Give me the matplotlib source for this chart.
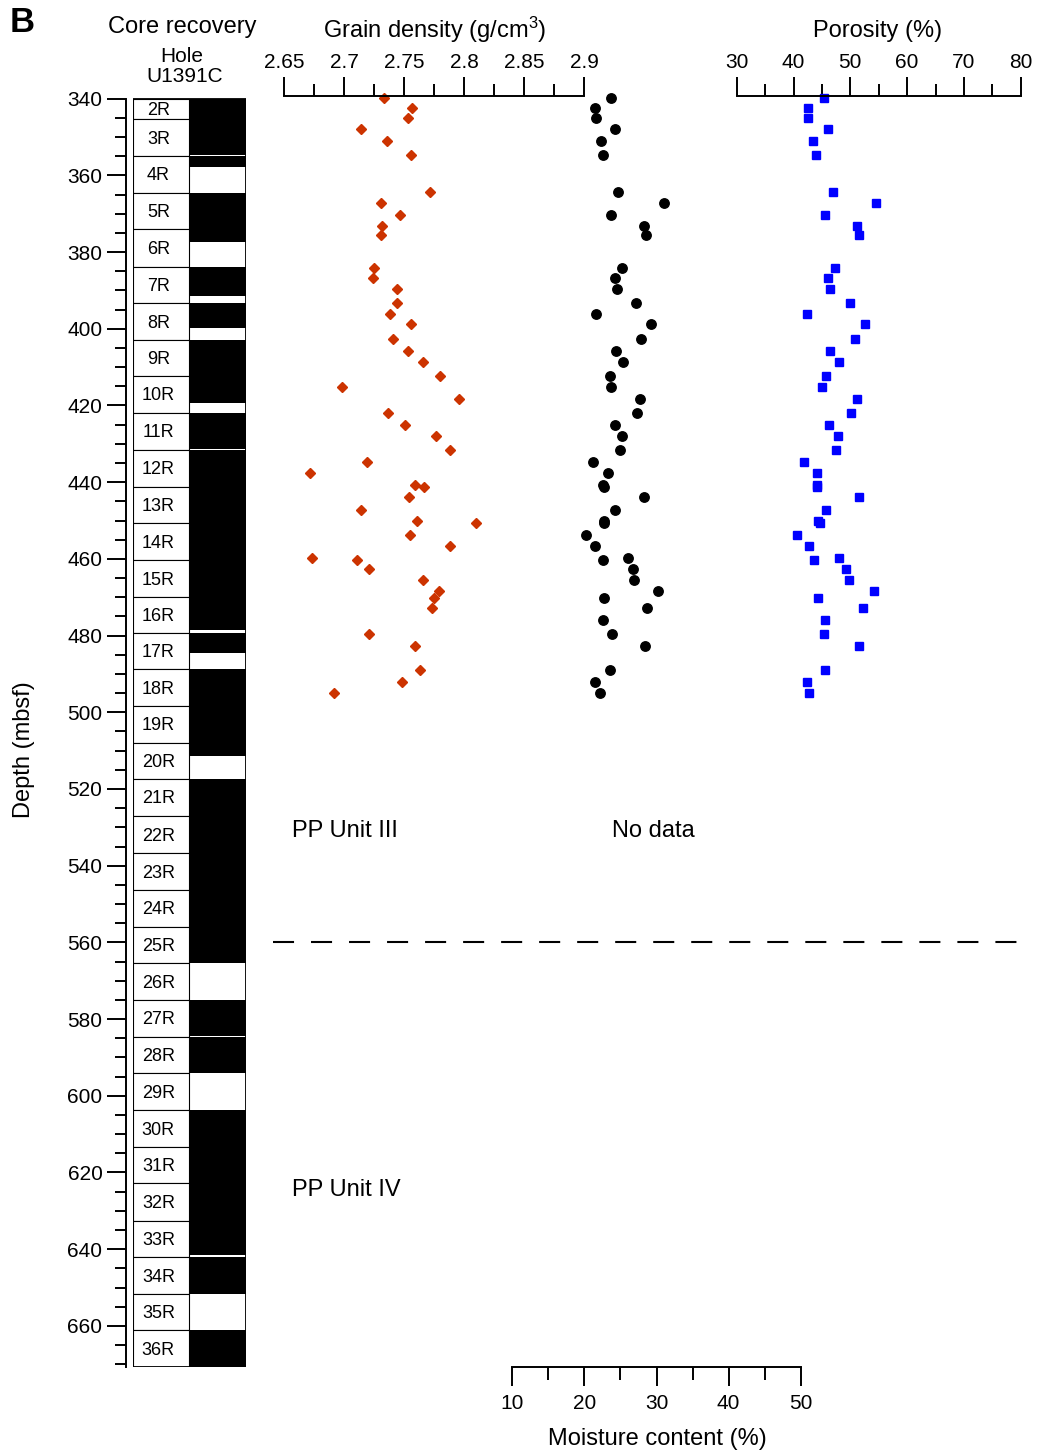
import numpy as np
import matplotlib.pyplot as plt
from matplotlib.patches import Rectangle
from matplotlib.ticker import MultipleLocator
from matplotlib.transforms import blended_transform_factory

plt.rcParams['font.family'] = ['Liberation Sans', 'DejaVu Sans']
plt.rcParams['mathtext.fontset'] = 'custom'
plt.rcParams['mathtext.rm'] = 'Liberation Sans'
plt.rcParams['mathtext.default'] = 'rm'

# Hole U1391C cores: name, top depth (mbsf), recovered length (m)
core_names = ['2R', '3R', '4R', '5R', '6R', '7R', '8R', '9R', '10R', '11R',
              '12R', '13R', '14R', '15R', '16R', '17R', '18R', '19R', '20R',
              '21R', '22R', '23R', '24R', '25R', '26R', '27R', '28R', '29R',
              '30R', '31R', '32R', '33R', '34R', '35R', '36R']
core_top = [340.0, 345.3, 355.0, 364.5, 374.1, 383.8, 393.4, 402.9, 412.3,
            421.9, 431.6, 441.2, 450.7, 460.4, 469.9, 479.4, 488.8, 498.4,
            507.9, 517.4, 527.0, 536.8, 546.3, 555.9, 565.5, 575.0, 584.6,
            594.1, 603.7, 613.4, 622.8, 632.6, 642.1, 651.7, 661.2]
core_rec = [5.2, 9.4, 2.7, 9.6, 3.2, 7.6, 6.5, 9.4, 7.1, 9.4, 9.6, 9.5, 9.7,
            9.5, 8.6, 5.2, 9.6, 9.5, 3.5, 9.6, 9.8, 9.5, 9.6, 9.6, 0.0, 9.5,
            9.5, 0.0, 9.7, 9.4, 9.8, 8.8, 9.6, 0.0, 9.4]
hole_bottom = 670.6

# MAD samples
mad_depth = [339.8, 342.5, 345.0, 348.0, 351.0, 354.7, 364.3, 367.3, 370.3,
             373.2, 375.5, 384.1, 386.7, 389.5, 393.2, 396.1, 398.8, 402.7,
             405.7, 408.7, 412.3, 415.3, 418.2, 422.0, 425.0, 427.9, 431.6,
             434.7, 437.5, 440.7, 441.2, 443.9, 447.2, 450.1, 450.7, 453.8,
             456.7, 459.8, 460.3, 462.6, 465.6, 468.4, 470.1, 472.9, 475.9,
             479.6, 482.6, 489.0, 492.0, 495.0]
grain_density = [2.733, 2.757, 2.753, 2.714, 2.736, 2.756, 2.772, 2.731, 2.747,
                 2.732, 2.731, 2.725, 2.724, 2.744, 2.744, 2.738, 2.756, 2.741,
                 2.753, 2.766, 2.780, 2.698, 2.796, 2.737, 2.751, 2.777, 2.788,
                 2.719, 2.672, 2.759, 2.767, 2.754, 2.714, 2.761, 2.810, 2.755,
                 2.788, 2.673, 2.711, 2.721, 2.766, 2.779, 2.775, 2.773, np.nan,
                 2.721, 2.759, 2.763, 2.748, 2.692]
moisture = [23.7, 21.5, 21.6, 24.2, 22.3, 22.6, 24.7, 31.1, 23.7, 28.3, 28.5,
            25.2, 24.3, 24.5, 27.1, 21.6, 29.2, 27.8, 24.4, 25.4, 23.6, 23.7,
            27.7, 27.3, 24.2, 25.2, 25.0, 21.2, 23.3, 22.6, 22.7, 28.3, 24.2,
            22.7, 22.7, 20.2, 21.5, 26.1, 22.6, 26.7, 26.9, 30.2, 22.7, 28.7,
            22.6, 23.8, 28.4, 23.6, 21.5, 22.1]
porosity = [45.3, 42.5, 42.6, 46.0, 43.4, 44.0, 47.0, 54.6, 45.5, 51.2, 51.5,
            47.3, 46.1, 46.5, 49.9, 42.4, 52.6, 50.8, 46.5, 48.0, 45.7, 45.1,
            51.2, 50.2, 46.3, 47.8, 47.5, 41.8, 44.2, 44.2, 44.2, 51.5, 45.8,
            44.3, 44.7, 40.6, 42.7, 48.0, 43.6, 49.2, 49.8, 54.1, 44.3, 52.2,
            45.5, 45.3, 51.6, 45.5, 42.4, 42.8]

unit_boundary = 560.0

W, H = 1037, 1456
fig = plt.figure(figsize=(W / 100, H / 100), dpi=100)


def fx(px):
    return px / W


def fy(py):
    return 1 - py / H


ytop, ybot = 339.3, 670.8
y0 = fy(1367.3)
h = (1367.3 - 96) / H


def add_ax(left_px, width_px):
    a = fig.add_axes([fx(left_px), y0, width_px / W, h])
    a.set_facecolor('none')
    a.set_ylim(ybot, ytop)
    for s in a.spines.values():
        s.set_visible(False)
    return a


# core recovery column
ax = add_ax(133, 112.7)
ax.set_xlim(0, 2)
ax.set_xticks([])
ax.spines['left'].set_visible(True)
ax.spines['left'].set_position(('outward', 5))
ax.spines['left'].set_linewidth(1.4)
ax.spines['left'].set_bounds(340, hole_bottom)
ax.yaxis.set_major_locator(MultipleLocator(20))
ax.yaxis.set_minor_locator(MultipleLocator(5))
ax.tick_params(axis='y', which='major', length=14, width=1.4, labelsize=15, pad=3)
ax.tick_params(axis='y', which='minor', length=8, width=1.4)

bottoms = core_top[1:] + [hole_bottom]
for name, top, bot, rec in zip(core_names, core_top, bottoms, core_rec):
    ax.add_patch(Rectangle((0, top), 1, bot - top, facecolor='white',
                           edgecolor='black', lw=0.8))
    ax.text(0.45, (top + bot) / 2 + 0.4, name, ha='center', va='center', fontsize=13)
    if rec > 0:
        ax.add_patch(Rectangle((1, top), 1, rec, facecolor='black',
                               edgecolor='none'))
ax.add_patch(Rectangle((0, 340), 2, hole_bottom - 340, facecolor='none',
                       edgecolor='black', lw=1.3))

tick_kw = dict(width=1.4, labelsize=15)

# grain density
ax_gd = add_ax(284, 300)
ax_gd.set_xlim(2.65, 2.9)
ax_gd.set_yticks([])
ax_gd.spines['top'].set_visible(True)
ax_gd.spines['top'].set_linewidth(1.4)
ax_gd.xaxis.tick_top()
ax_gd.set_xticks([2.65, 2.7, 2.75, 2.8, 2.85, 2.9])
ax_gd.set_xticklabels(['2.65', '2.7', '2.75', '2.8', '2.85', '2.9'])
ax_gd.xaxis.set_minor_locator(MultipleLocator(0.025))
ax_gd.tick_params(axis='x', which='major', length=13.5, pad=4, **tick_kw)
ax_gd.tick_params(axis='x', which='minor', length=9, width=1.4)
ax_gd.plot(grain_density, mad_depth, 'D', ms=5.2, color='#cc3300',
           mec='#cc3300', clip_on=False)

# moisture content
ax_mc = add_ax(512.3, 288.4)
ax_mc.set_xlim(10, 50)
ax_mc.set_yticks([])
ax_mc.spines['bottom'].set_visible(True)
ax_mc.spines['bottom'].set_linewidth(1.4)
ax_mc.xaxis.set_major_locator(MultipleLocator(10))
ax_mc.xaxis.set_minor_locator(MultipleLocator(5))
ax_mc.tick_params(axis='x', which='major', length=13.5, pad=6, **tick_kw)
ax_mc.tick_params(axis='x', which='minor', length=9, width=1.4)
ax_mc.plot(moisture, mad_depth, 'o', ms=6.8, color='black', clip_on=False)

# porosity
ax_por = add_ax(736.7, 284)
ax_por.set_xlim(30, 80)
ax_por.set_yticks([])
ax_por.spines['top'].set_visible(True)
ax_por.spines['top'].set_linewidth(1.4)
ax_por.xaxis.tick_top()
ax_por.xaxis.set_major_locator(MultipleLocator(10))
ax_por.xaxis.set_minor_locator(MultipleLocator(5))
ax_por.tick_params(axis='x', which='major', length=13.5, pad=4, **tick_kw)
ax_por.tick_params(axis='x', which='minor', length=9, width=1.4)
ax_por.plot(porosity, mad_depth, 's', ms=6.3, color='#0000ff', mec='#0000ff',
            clip_on=False)

# unit boundary and labels
tr = blended_transform_factory(fig.transFigure, ax.transData)
ax.plot([fx(273), fx(1017)], [unit_boundary, unit_boundary], transform=tr,
        color='black', lw=1.5, dashes=(10.1, 8.15), clip_on=False)
ax.text(fx(292), 530.9, 'PP Unit III', transform=tr, fontsize=17, va='center')
ax.text(fx(612), 530.9, 'No data', transform=tr, fontsize=17, va='center')
ax.text(fx(292), 624.5, 'PP Unit IV', transform=tr, fontsize=17, va='center')

# headings
fig.text(fx(22), fy(22), 'B', fontsize=25, fontweight='bold', ha='center', va='center')
fig.text(fx(182), fy(27), 'Core recovery', fontsize=17, ha='center', va='center')
fig.text(fx(182), fy(57), 'Hole', fontsize=15, ha='center', va='center')
fig.text(fx(185), fy(77), 'U1391C', fontsize=15, ha='center', va='center')
fig.text(fx(435), fy(30), 'Grain density (g/cm$^3$)', fontsize=17,
         ha='center', va='center')
fig.text(fx(878), fy(31), 'Porosity (%)', fontsize=17, ha='center', va='center')
fig.text(fx(657), fy(1439), 'Moisture content (%)', fontsize=17,
         ha='center', va='center')
fig.text(fx(24), fy(750), 'Depth (mbsf)', fontsize=17, rotation=90,
         ha='center', va='center')

fig.savefig('out.png', dpi=100)
